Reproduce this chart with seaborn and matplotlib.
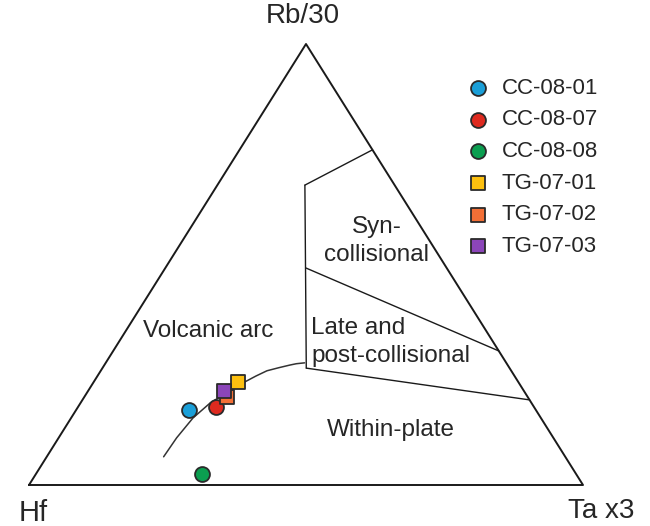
import numpy as np
import pandas as pd
import seaborn as sns
import matplotlib.pyplot as plt

sns.set_style("white")
plt.rcParams['font.family'] = ['Liberation Sans', 'DejaVu Sans']

# sample compositions (fractions of Rb/30, Hf, Ta x3)
samples = ['CC-08-01', 'CC-08-07', 'CC-08-08', 'TG-07-01', 'TG-07-02', 'TG-07-03']
rb = [0.170, 0.177, 0.025, 0.234, 0.200, 0.213]
hf = [0.626, 0.574, 0.675, 0.506, 0.543, 0.541]
ta = [0.204, 0.249, 0.300, 0.260, 0.257, 0.246]
colors = ['#1a9fd8', '#de2a1f', '#0b9e50', '#fdc00f', '#f36f36', '#8b45b9']
markers = ['o', 'o', 'o', 's', 's', 's']

# field boundaries (Rb, Hf, Ta)
syn_top = [(0.760, 0.000, 0.240), (0.680, 0.162, 0.158)]
vertical = [(0.680, 0.162, 0.158), (0.265, 0.367, 0.368)]
mid_line = [(0.492, 0.254, 0.254), (0.304, 0.000, 0.696)]
low_line = [(0.265, 0.367, 0.368), (0.193, 0.000, 0.807)]
arc_curve = [(0.277, 0.364, 0.359), (0.275, 0.380, 0.345), (0.272, 0.393, 0.335),
             (0.266, 0.416, 0.318), (0.259, 0.441, 0.300), (0.247, 0.467, 0.286),
             (0.234, 0.493, 0.273), (0.210, 0.537, 0.253), (0.186, 0.580, 0.234),
             (0.152, 0.628, 0.220), (0.107, 0.680, 0.213), (0.064, 0.725, 0.211)]


def tern(r, h, t):
    s = r + h + t
    r, t = np.asarray(r) / s, np.asarray(t) / s
    return t + r / 2, r


fig = plt.figure(figsize=(6.5, 5.26), dpi=100)
ax = fig.add_axes([0, 0, 1, 1])
ax.set_xlim(-0.05235, 1.12094)
ax.set_ylim(-0.09297, 1.09977)
ax.axis('off')

# triangle outline
ax.plot([0, 1, 0.5, 0], [0, 0, 1, 0], color='#1a1a1a', lw=1.4, zorder=2)

for seg in [syn_top, vertical, mid_line, low_line]:
    r_, h_, t_ = zip(*seg)
    x, y = tern(np.array(r_), np.array(h_), np.array(t_))
    ax.plot(x, y, color='#1a1a1a', lw=1.0, zorder=2)

r_, h_, t_ = zip(*arc_curve)
x, y = tern(np.array(r_), np.array(h_), np.array(t_))
ax.plot(x, y, color='#333333', lw=1.1, zorder=2, solid_joinstyle='round')

px, py = tern(np.array(rb), np.array(hf), np.array(ta))
df = pd.DataFrame({'x': px, 'y': py, 'sample': samples})
for i, name in enumerate(samples):
    sns.scatterplot(data=df[df['sample'] == name], x='x', y='y', ax=ax,
                    marker=markers[i], color=colors[i],
                    s=115 if markers[i] == 'o' else 100,
                    edgecolor='#2a2a2a', linewidth=1.3, label=name, zorder=3 + i)

ax.set_xlabel('')
ax.set_ylabel('')

# field names
ax.text(0.3231, 0.3492, 'Volcanic arc', fontsize=17.5, ha='center', va='center')
ax.text(0.627, 0.5533, 'Syn-\ncollisional', fontsize=17.5, ha='center', va='center',
        linespacing=1.3)
ax.text(0.509, 0.3243, 'Late and\npost-collisional', fontsize=17.5, ha='left',
        va='center', linespacing=1.3)
ax.text(0.6534, 0.1247, 'Within-plate', fontsize=17.5, ha='center', va='center')

# apex labels
ax.text(0.4946, 1.0635, 'Rb/30', fontsize=20, ha='center', va='center')
ax.text(0.0072, -0.0635, 'Hf', fontsize=21, ha='center', va='center')
ax.text(1.0325, -0.059, 'Ta x3', fontsize=20, ha='center', va='center')

ax.legend(loc='upper left', bbox_to_anchor=(0.705, 0.869), frameon=False,
          fontsize=16, handletextpad=0.55, labelspacing=0.48, borderaxespad=0,
          handlelength=1.0)

fig.savefig('out.png', dpi=100)
